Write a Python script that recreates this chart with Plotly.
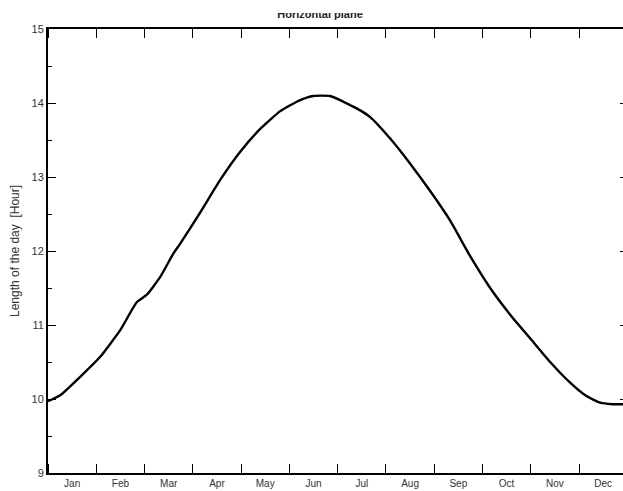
import plotly.graph_objects as go

# Day of year and length of the day [Hour]
days = [0, 7.7, 20.3, 32.9, 45.5, 56.0, 62.3, 70.7, 79.1, 83.3, 95.9, 108.5, 121.1, 133.7,
        146.3, 152.6, 158.9, 167.1, 177.8, 184.1, 190.4, 196.7, 203.0, 215.6, 228.2, 240.8,
        253.4, 266.0, 278.6, 291.2, 303.8, 316.4, 329.0, 338.5, 347.9, 355.5, 365]
hours = [9.97, 10.05, 10.30, 10.57, 10.93, 11.31, 11.41, 11.65, 11.97, 12.10, 12.52, 12.96,
         13.34, 13.65, 13.89, 13.97, 14.04, 14.095, 14.095, 14.04, 13.97, 13.90, 13.81,
         13.52, 13.18, 12.81, 12.41, 11.93, 11.50, 11.14, 10.82, 10.50, 10.22, 10.05, 9.95,
         9.93, 9.93]

months = ["Jan", "Feb", "Mar", "Apr", "May", "Jun", "Jul", "Aug", "Sep", "Oct", "Nov", "Dec"]
y_ticks = [9, 10, 11, 12, 13, 14, 15]
title_text = "Horizontal plane"
y_title = "Length of the day\u00a0 [Hour]"

month_len = 365 / 12
mid_month = [month_len * (i + 0.5) for i in range(len(months))]

W, H = 623, 491
ML, MR, MT, MB = 48, 0, 13, 18
plot_h = H - MT - MB
main_top = (plot_h - 16) / plot_h  # plot area top at 29 px

x_end = (W - 47.7) / 48.3 * month_len

fig = go.Figure()
fig.add_trace(go.Scatter(x=days, y=hours, mode="lines",
                         line=dict(color="black", width=2.4, shape="spline", smoothing=0.5),
                         showlegend=False, hoverinfo="skip"))
# invisible trace for right-hand tick axis
fig.add_trace(go.Scatter(x=[days[0]], y=[hours[0]], yaxis="y2", mode="markers",
                         marker=dict(opacity=0), showlegend=False, hoverinfo="skip"))
# title drawn in a thin clipped strip (top of title cut off as in the reference)
fig.add_trace(go.Scatter(x=[(320 - ML) / (W - ML - MR)], y=[0.84], xaxis="x3", yaxis="y3",
                         mode="text", text=["<b>" + title_text + "</b>"],
                         textfont=dict(family="Arial, Liberation Sans", size=11, color="#222"),
                         textposition="middle center", cliponaxis=True,
                         showlegend=False, hoverinfo="skip"))

fig.update_layout(
    width=W, height=H,
    margin=dict(l=ML, r=MR, t=MT, b=MB, autoexpand=False),
    paper_bgcolor="white", plot_bgcolor="white",
    font=dict(family="Arial, Liberation Sans", color="#333"),
    xaxis=dict(
        domain=[0, 1], anchor="y", range=[0, x_end],
        showgrid=False, zeroline=False,
        showline=True, linecolor="black", linewidth=2, mirror="ticks",
        tickmode="array", tickvals=mid_month, ticktext=months,
        ticks="", ticklen=0, tickfont=dict(size=10, color="#333"),
        minor=dict(tick0=0, dtick=month_len, ticks="inside", ticklen=9,
                   tickcolor="black", tickwidth=1, showgrid=False),
        automargin=False,
    ),
    yaxis=dict(
        domain=[0, main_top], anchor="x", range=[9, 15],
        showgrid=False, zeroline=False,
        showline=True, linecolor="black", linewidth=2, mirror=False,
        tickmode="array", tickvals=y_ticks,
        ticks="inside", ticklen=8, tickcolor="black", tickwidth=1,
        tickfont=dict(size=11, color="#333"),
        minor=dict(dtick=0.5, tick0=9, ticks="inside", ticklen=4,
                   tickcolor="black", tickwidth=1, showgrid=False),
        automargin=False,
    ),
    yaxis2=dict(
        overlaying="y", side="right", anchor="x", range=[9, 15],
        showgrid=False, zeroline=False, showline=False,
        tickmode="array", tickvals=y_ticks, showticklabels=False,
        ticks="inside", ticklen=3, tickcolor="black", tickwidth=1,
    ),
    xaxis3=dict(domain=[0, 1], anchor="y3", range=[0, 1], visible=False, fixedrange=True),
    yaxis3=dict(domain=[main_top, 1], anchor="x3", range=[0, 1], visible=False, fixedrange=True),
    annotations=[dict(
        text=y_title, textangle=-90, xref="paper", yref="paper",
        x=(15 - ML) / (W - ML - MR), y=(H - MB - 251) / plot_h,
        xanchor="center", yanchor="middle", showarrow=False,
        font=dict(size=12, color="#333"),
    )],
)

fig.write_html("out.html")
